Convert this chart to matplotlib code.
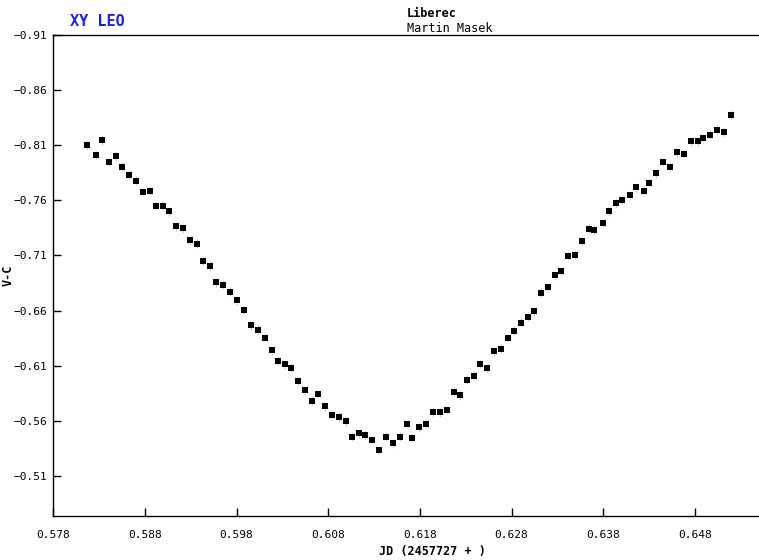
import matplotlib as mpl
import matplotlib.pyplot as plt

# JD - 2457727
jd = [
    0.58168, 0.58266, 0.58328, 0.58404, 0.58481, 0.58553, 0.58629, 0.58705,
    0.58782, 0.58855, 0.58917, 0.58993, 0.59065, 0.59142, 0.59218, 0.59291,
    0.59368, 0.59430, 0.59506, 0.59580, 0.59655, 0.59731, 0.59804, 0.59880,
    0.59957, 0.60030, 0.60106, 0.60183, 0.60255, 0.60331, 0.60396, 0.60469,
    0.60546, 0.60619, 0.60693, 0.60767, 0.60844, 0.60917, 0.60993, 0.61055,
    0.61132, 0.61204, 0.61280, 0.61353, 0.61429, 0.61506, 0.61579, 0.61655,
    0.61716, 0.61793, 0.61866, 0.61942, 0.62018, 0.62092, 0.62168, 0.62242,
    0.62318, 0.62393, 0.62455, 0.62531, 0.62608, 0.62681, 0.62757, 0.62829,
    0.62905, 0.62978, 0.63044, 0.63120, 0.63193, 0.63270, 0.63342, 0.63418,
    0.63491, 0.63567, 0.63644, 0.63704, 0.63793, 0.63865, 0.63942, 0.64004,
    0.64091, 0.64153, 0.64241, 0.64302, 0.64378, 0.64454, 0.64527, 0.64604,
    0.64680, 0.64753, 0.64830, 0.64891, 0.64967, 0.65040, 0.65117, 0.65190,
]
v_c = [
    -0.8106, -0.8012, -0.8145, -0.7948, -0.8000, -0.7906, -0.7834, -0.7779,
    -0.7675, -0.7688, -0.7552, -0.7552, -0.7500, -0.7364, -0.7345, -0.7239,
    -0.7206, -0.7052, -0.7002, -0.6855, -0.6835, -0.6770, -0.6693, -0.6603,
    -0.6466, -0.6425, -0.6352, -0.6239, -0.6145, -0.6112, -0.6082, -0.5957,
    -0.5875, -0.5782, -0.5843, -0.5730, -0.5655, -0.5636, -0.5594, -0.5457,
    -0.5488, -0.5470, -0.5427, -0.5334, -0.5457, -0.5394, -0.5457, -0.5570,
    -0.5445, -0.5539, -0.5573, -0.5676, -0.5676, -0.5697, -0.5864, -0.5832,
    -0.5973, -0.6009, -0.6115, -0.6075, -0.6230, -0.6252, -0.6355, -0.6418,
    -0.6491, -0.6543, -0.6594, -0.6761, -0.6812, -0.6918, -0.6957, -0.7097,
    -0.7106, -0.7229, -0.7341, -0.7334, -0.7394, -0.7500, -0.7573, -0.7606,
    -0.7645, -0.7718, -0.7688, -0.7761, -0.7845, -0.7948, -0.7906, -0.8034,
    -0.8021, -0.8134, -0.8134, -0.8166, -0.8197, -0.8239, -0.8218, -0.8375,
]
v_err = 0.004

x_ticks = [0.578, 0.588, 0.598, 0.608, 0.618, 0.628, 0.638, 0.648]
y_ticks = [-0.91, -0.86, -0.81, -0.76, -0.71, -0.66, -0.61, -0.56, -0.51]

mpl.rcParams.update(
    {
        "font.family": "DejaVu Sans Mono",
        "font.size": 8,
        "axes.linewidth": 1.0,
    }
)

fig = plt.figure(figsize=(7.59, 5.6), dpi=100)
ax = fig.add_axes([0.0702, 0.0786, 0.9298, 0.8589])

ax.errorbar(
    jd, v_c, yerr=v_err, fmt="s", color="black", ms=3.8, mew=0,
    ecolor="#c8c8c8", elinewidth=0.8, capsize=0,
)

ax.set_xlim(0.578, 0.655)
ax.set_ylim(-0.4736, -0.91)  # inverted, brighter up
ax.set_xticks(x_ticks)
ax.set_yticks(y_ticks)
ax.set_xticklabels([f"{t:.3f}" for t in x_ticks])
ax.set_yticklabels([f"{t:.2f}".replace("-", "\u2212") for t in y_ticks])
ax.tick_params(direction="in", length=6, width=1, labelsize=8)
ax.tick_params(axis="y", pad=4)
ax.tick_params(axis="x", pad=10)
ax.spines["right"].set_visible(False)

ax.set_xlabel("JD (2457727 + )", fontweight="bold", fontsize=8.5)
ax.xaxis.set_label_coords(0.537, -0.060)
ax.set_ylabel("V-C", fontweight="bold", fontsize=8.5)
ax.yaxis.set_label_coords(-0.055, 0.50)

fig.text(0.092, 0.962, "XY LEO", color="#1a1aff", fontweight="bold",
         fontsize=11, ha="left", va="center")
fig.text(0.536, 0.976, "Liberec", fontweight="bold", fontsize=8.5,
         ha="left", va="center")
fig.text(0.536, 0.950, "Martin Masek", fontsize=8.5, ha="left", va="center")

fig.savefig("out.png", dpi=100)
